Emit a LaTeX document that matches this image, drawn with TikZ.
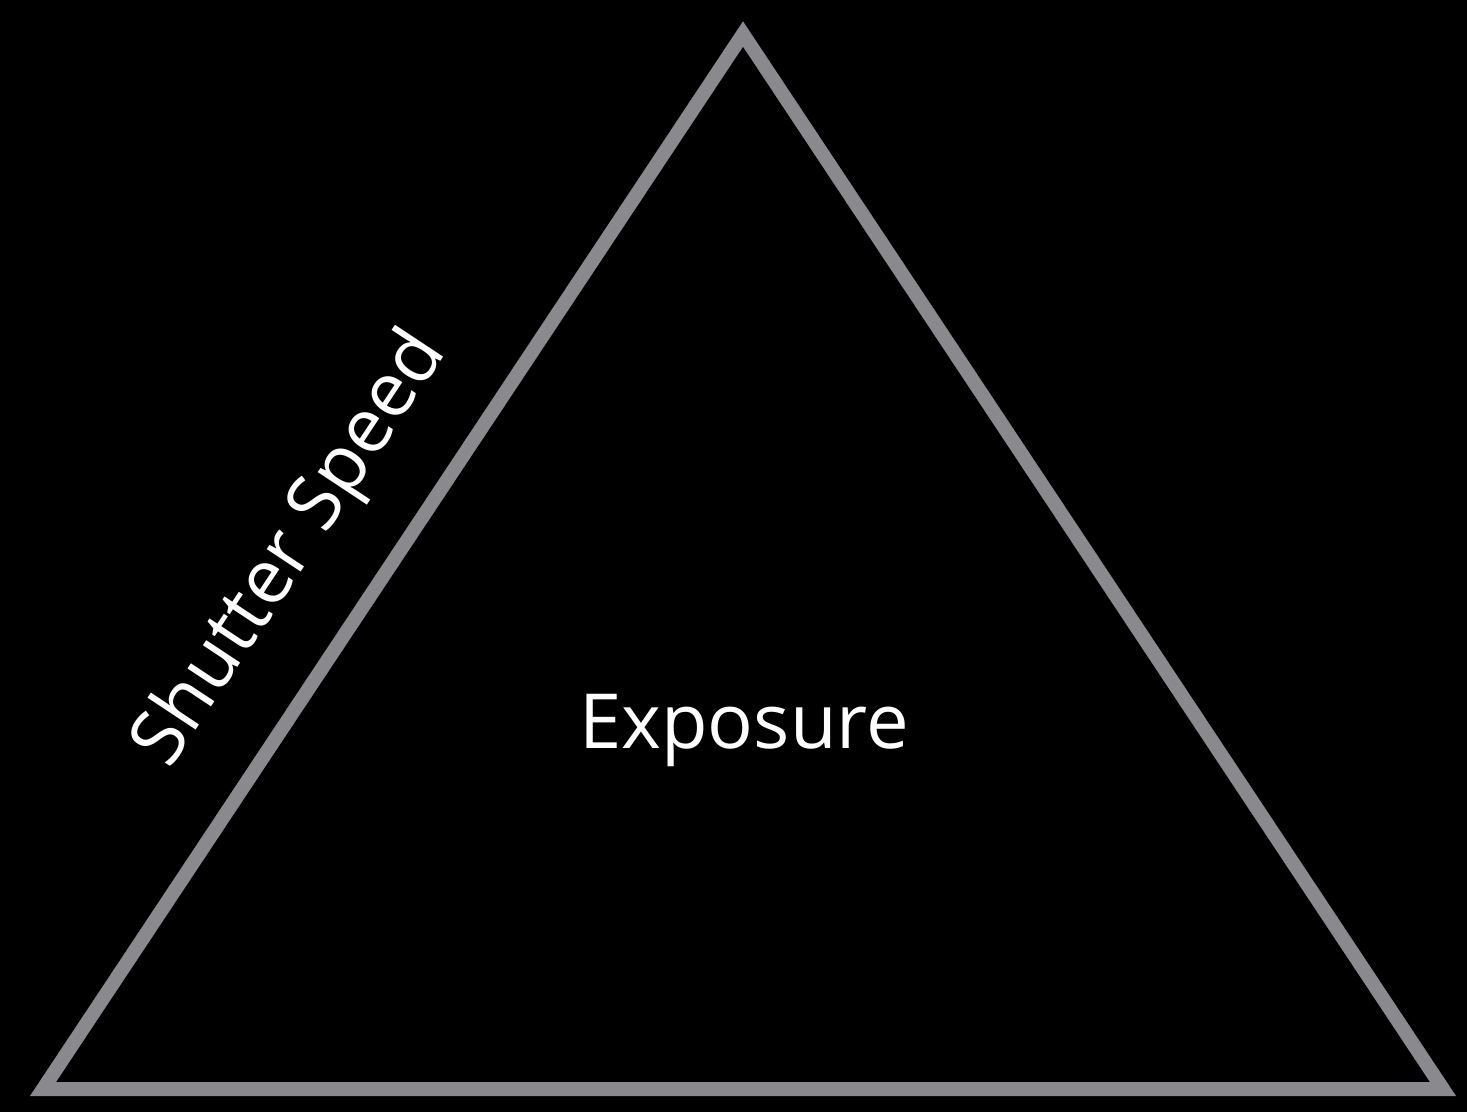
\documentclass[tikz,border=0pt]{standalone}
\usepackage{fontspec}
\setmainfont{Open Sans}
\definecolor{edgegray}{RGB}{138,137,142}
\tikzset{
  edge/.style={draw=edgegray, line width=14pt, line join=miter},
  label/.style={text=white, font=\fontsize{76}{86}\selectfont, inner sep=0pt}
}
\begin{document}
\begin{tikzpicture}[x=1pt,y=-1pt]
  % background
  \fill[black] (0,0) rectangle (1467,1112);
  \useasboundingbox (0,0) rectangle (1467,1112);
  % corners of the triangle
  \coordinate (apex) at (743,34);
  \coordinate (left) at (43,1089);
  \coordinate (right) at (1443,1089);
  \draw[edge] (apex) -- (left) -- (right) -- cycle;
  % labels
  \node[label] (exposure) at (744,730) {Exposure};
  \node[label, rotate=56.5] (shutter) at (292,550) {Shutter Speed};
\end{tikzpicture}
\end{document}
